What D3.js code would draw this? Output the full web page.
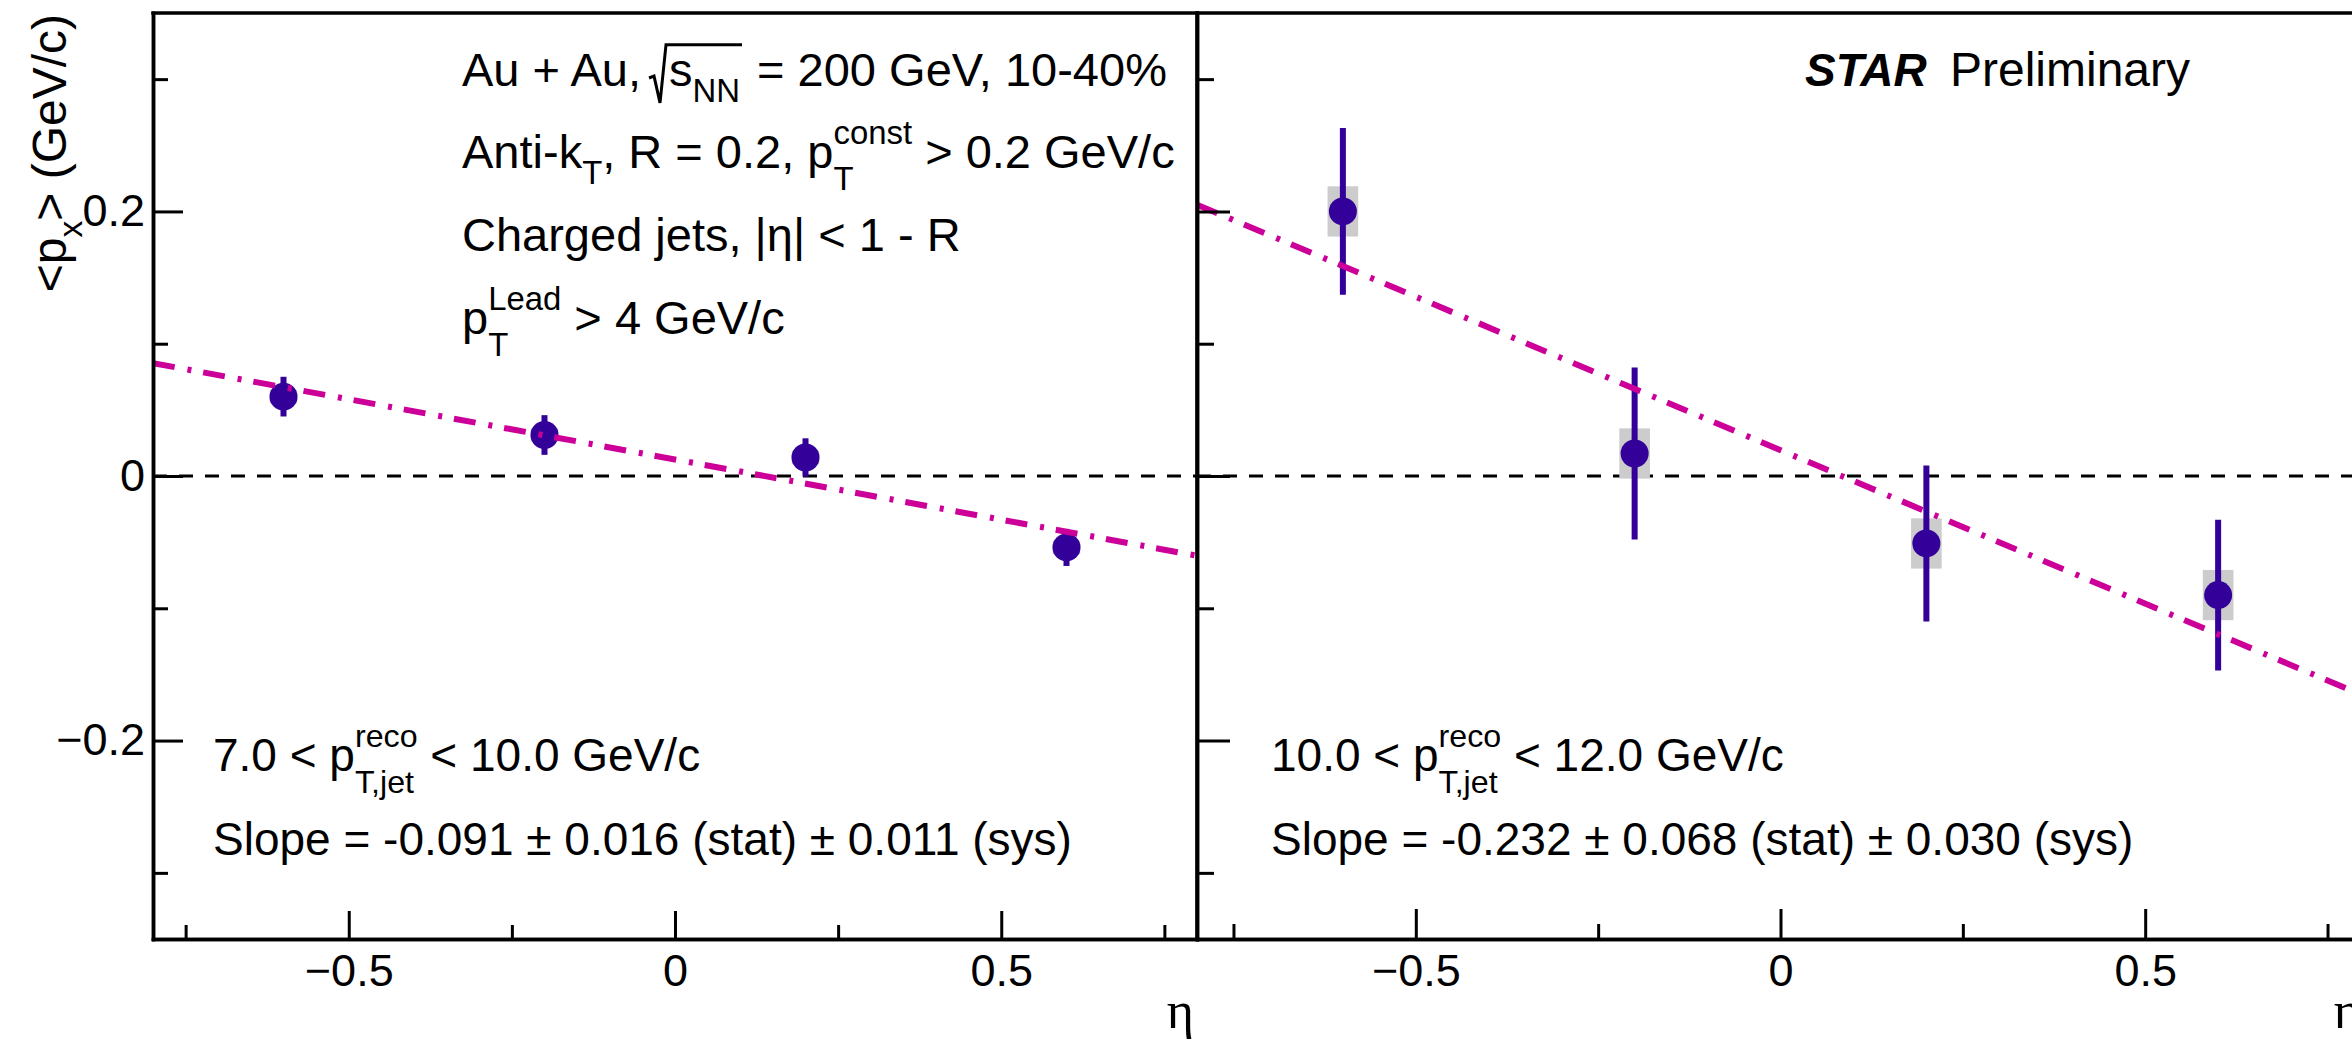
<!DOCTYPE html>
<html>
<head>
<meta charset="utf-8">
<script src="https://cdnjs.cloudflare.com/ajax/libs/d3/7.8.5/d3.min.js"></script>
<style>
  html, body { margin: 0; padding: 0; background: #fff; }
  svg { display: block; }
  text { font-family: "Liberation Sans", Arial, Helvetica, sans-serif; fill: #000; white-space: pre; }
</style>
</head>
<body>
<svg id="chart" width="2352" height="1043"></svg>
<script>
// ---------------- data ----------------
const etaBins = [-0.6, -0.2, 0.2, 0.6];
// 7.0 < pT,jet < 10.0 GeV/c
const meanLow = [0.060, 0.031, 0.014, -0.054];
const statLow = [0.015, 0.015, 0.0145, 0.014];
const sysLow  = [0.005, 0.005, 0.005, 0.005];
// 10.0 < pT,jet < 12.0 GeV/c
const meanHigh = [0.200, 0.017, -0.051, -0.090];
const statHigh = [0.063, 0.065, 0.059, 0.057];
const sysHigh  = [0.019, 0.019, 0.019, 0.019];
// linear fits
const fitSlopes = [-0.091, -0.232];
const fitIntercepts = [0.0125, 0.0195];
const fitRange = [-0.8, 0.8];
// axes
const xDomain = [-0.8, 0.8];
const yDomain = [-0.35, 0.35];
const xMajorTicks = [-0.5, 0, 0.5];
const xMinorTicks = [-0.75, -0.25, 0.25, 0.75];
const xTickLabels = ["\u22120.5", "0", "0.5"];
const yMajorTicks = [-0.2, 0, 0.2];
const yMinorTicks = [-0.3, -0.1, 0.1, 0.3];
const yTickLabels = ["\u22120.2", "0", "0.2"];
const sysHalfWidth = 0.021; // in eta units

// ---------------- layout ----------------
const svg = d3.select("#chart");
const yTop = 13, yBot = 939;
const panels = [
  { x0: 153, x1: 1197, mean: meanLow, stat: statLow, sys: sysLow, k: 0, yMaj: 30, yMin: 15, xMaj: 28, xMin: 14, yLabels: true },
  { x0: 1197, x1: 2364, mean: meanHigh, stat: statHigh, sys: sysHigh, k: 1, yMaj: 33, yMin: 17, xMaj: 30, xMin: 15, yLabels: false }
];
const y = d3.scaleLinear().domain(yDomain).range([yBot, yTop]);

const markerColor = "#330099";
const fitColor = "#cc0099";
const sysColor = "#cccccc";

const defs = svg.append("defs");

panels.forEach((p, i) => {
  const x = d3.scaleLinear().domain(xDomain).range([p.x0, p.x1]);
  defs.append("clipPath").attr("id", "clip" + i)
    .append("rect").attr("x", p.x0).attr("y", yTop).attr("width", p.x1 - p.x0).attr("height", yBot - yTop);

  const g = svg.append("g");
  const plot = g.append("g").attr("clip-path", `url(#clip${i})`);

  // zero line
  plot.append("line")
    .attr("x1", p.x0).attr("x2", p.x1).attr("y1", y(0)).attr("y2", y(0))
    .attr("stroke", "#000").attr("stroke-width", 3).attr("stroke-dasharray", "14,12");

  const idx = d3.range(etaBins.length);
  // systematic boxes
  plot.selectAll("rect.sys").data(idx).join("rect").attr("class", "sys")
    .attr("x", d => x(etaBins[d] - sysHalfWidth))
    .attr("width", d => x(etaBins[d] + sysHalfWidth) - x(etaBins[d] - sysHalfWidth))
    .attr("y", d => y(p.mean[d] + p.sys[d]))
    .attr("height", d => y(p.mean[d] - p.sys[d]) - y(p.mean[d] + p.sys[d]))
    .attr("fill", sysColor);
  // stat error bars
  plot.selectAll("line.err").data(idx).join("line").attr("class", "err")
    .attr("x1", d => x(etaBins[d])).attr("x2", d => x(etaBins[d]))
    .attr("y1", d => y(p.mean[d] + p.stat[d])).attr("y2", d => y(p.mean[d] - p.stat[d]))
    .attr("stroke", markerColor).attr("stroke-width", 6);
  // markers
  plot.selectAll("circle.pt").data(idx).join("circle").attr("class", "pt")
    .attr("cx", d => x(etaBins[d])).attr("cy", d => y(p.mean[d])).attr("r", 14)
    .attr("fill", markerColor);
  // fit line
  const line = d3.line().x(d => x(d)).y(d => y(fitIntercepts[p.k] + fitSlopes[p.k] * d));
  plot.append("path").datum(fitRange).attr("d", line)
    .attr("fill", "none").attr("stroke", fitColor).attr("stroke-width", 6)
    .attr("stroke-dasharray", "22,13,4,12");

  // axes
  const styleAxis = sel => {
    sel.selectAll("path.domain").attr("stroke", "#000").attr("stroke-width", 3.5).attr("stroke-linecap", "square");
    sel.selectAll(".tick line").attr("stroke", "#000").attr("stroke-width", 3);
    sel.selectAll(".tick text").attr("font-size", 45).attr("fill", "#000")
      .attr("font-family", '"Liberation Sans", Arial, Helvetica, sans-serif');
  };
  const xAxisMaj = d3.axisBottom(x).tickValues(xMajorTicks)
    .tickFormat((d, j) => xTickLabels[j]).tickSize(-p.xMaj).tickSizeOuter(0).tickPadding(15);
  const xAxisMin = d3.axisBottom(x).tickValues(xMinorTicks).tickFormat("").tickSize(-p.xMin).tickSizeOuter(0);
  g.append("g").attr("transform", `translate(0,${yBot})`).call(xAxisMin).call(styleAxis);
  g.append("g").attr("transform", `translate(0,${yBot})`).call(xAxisMaj).call(styleAxis);

  const yAxisMaj = d3.axisLeft(y).tickValues(yMajorTicks)
    .tickFormat((d, j) => p.yLabels ? yTickLabels[j] : "").tickSize(-p.yMaj).tickSizeOuter(0).tickPadding(8);
  const yAxisMin = d3.axisLeft(y).tickValues(yMinorTicks).tickFormat("").tickSize(-p.yMin).tickSizeOuter(0);
  g.append("g").attr("transform", `translate(${p.x0},0)`).call(yAxisMin).call(styleAxis);
  g.append("g").attr("transform", `translate(${p.x0},0)`).call(yAxisMaj).call(styleAxis);

  // top frame
  g.append("line").attr("x1", p.x0).attr("x2", p.x1).attr("y1", yTop).attr("y2", yTop)
    .attr("stroke", "#000").attr("stroke-width", 3.5).attr("stroke-linecap", "square");

  // eta label
  g.append("text").attr("x", p.x1 - 3).attr("y", 1028).attr("text-anchor", "end")
    .attr("font-size", 52).style("font-family", '"Liberation Serif", "DejaVu Serif", serif').text("\u03B7");
});
// divider / right frame of left panel
svg.append("line").attr("x1", 1197).attr("x2", 1197).attr("y1", yTop).attr("y2", yBot)
  .attr("stroke", "#000").attr("stroke-width", 3.5);

// ---------------- rich text helper ----------------
function rich(sel, x0, yb, parts, fs) {
  const g = sel.append("g");
  let cx = x0, radX = null;
  const sfs = fs * 0.7;
  parts.forEach(p => {
    let w = 0;
    if (p.t !== undefined) {
      const t = g.append("text").attr("x", cx).attr("y", yb).attr("font-size", fs).text(p.t);
      if (p.bold) t.attr("font-weight", "bold");
      if (p.italic) t.attr("font-style", "italic");
      w = t.node().getComputedTextLength();
    } else if (p.sub !== undefined || p.sup !== undefined) {
      const stacked = p.sub !== undefined && p.sup !== undefined;
      let w1 = 0, w2 = 0;
      if (p.sup !== undefined) {
        const t = g.append("text").attr("x", cx).attr("y", yb - fs * 0.52).attr("font-size", sfs).text(p.sup);
        w1 = t.node().getComputedTextLength();
      }
      if (p.sub !== undefined) {
        const t = g.append("text").attr("x", cx).attr("y", yb + fs * (stacked ? 0.47 : 0.33)).attr("font-size", sfs).text(p.sub);
        w2 = t.node().getComputedTextLength();
      }
      w = Math.max(w1, w2);
    } else if (p.radStart) {
      radX = cx + (p.shift || 0);
      w = 20 + (p.shift || 0);
    } else if (p.radEnd) {
      const r = radX, e = cx + 2;
      g.append("path")
        .attr("d", `M${r},${yb - fs * 0.17} L${r + 5},${yb - fs * 0.21} L${r + 11},${yb + fs * 0.36} L${r + 17},${yb - fs * 0.88} L${e},${yb - fs * 0.88}`)
        .attr("fill", "none").attr("stroke", "#000").attr("stroke-width", 3).attr("stroke-linejoin", "miter");
      w = 4;
    } else if (p.gap) {
      w = p.gap;
    }
    cx += w;
  });
  g.end = cx;
  return g;
}

// ---------------- annotations ----------------
const FS = 47;
const TX = 462;
rich(svg, TX, 86, [{ t: "Au + Au," }, { gap: 8 }, { radStart: true }, { t: "s" }, { sub: "NN" }, { radEnd: true }, { t: " = 200 GeV, 10-40%" }], FS);
rich(svg, TX, 168, [{ t: "Anti-k" }, { sub: "T" }, { t: ", R = 0.2, p" }, { sup: "const", sub: "T" }, { t: " > 0.2 GeV/c" }], FS);
rich(svg, TX, 251, [{ t: "Charged jets, |\u03B7| < 1 - R" }], FS);
rich(svg, TX, 334, [{ t: "p" }, { sup: "Lead", sub: "T" }, { t: " > 4 GeV/c" }], FS);

rich(svg, 1805, 86, [{ t: "STAR", bold: true, italic: true }], 46);
rich(svg, 1950, 86, [{ t: "Preliminary" }], 48);

const binLabels = [["7.0", "10.0"], ["10.0", "12.0"]];
const slopeLabels = ["Slope = -0.091 \u00B1 0.016 (stat) \u00B1 0.011 (sys)", "Slope = -0.232 \u00B1 0.068 (stat) \u00B1 0.030 (sys)"];
const textX = [213, 1271];
[0, 1].forEach(i => {
  rich(svg, textX[i], 771, [{ t: binLabels[i][0] + " < p" }, { sup: "reco", sub: "T,jet" }, { t: " < " + binLabels[i][1] + " GeV/c" }], 46);
  rich(svg, textX[i], 855, [{ t: slopeLabels[i] }], 46);
});

// y-axis title (rotated)
const yt = svg.append("g").attr("transform", "translate(66,14) rotate(-90)");
const inner = rich(yt, 0, 0, [{ t: "<p" }, { sub: "x" }, { t: "> (GeV/c)" }], 48);
inner.attr("transform", `translate(${-inner.end},0)`);
</script>
</body>
</html>
